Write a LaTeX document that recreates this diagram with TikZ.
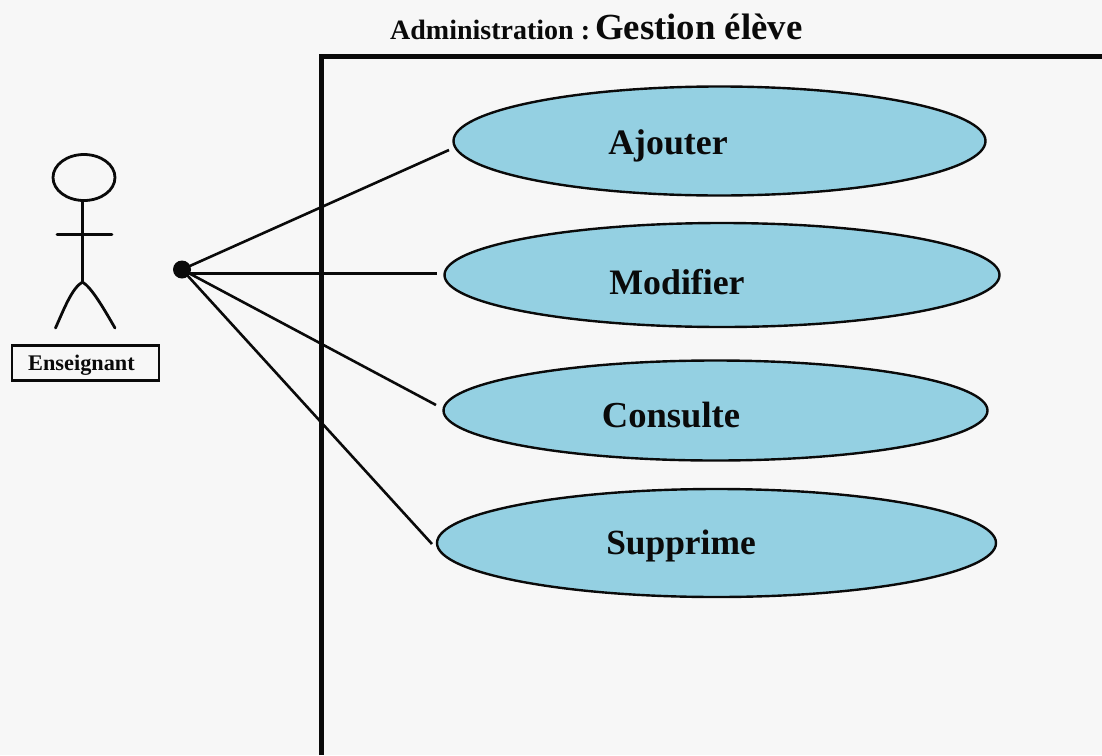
\documentclass[tikz,border=0pt]{standalone}
\usepackage{fontspec}
\setmainfont{Liberation Serif}
\usetikzlibrary{shapes.geometric}
\definecolor{bgc}{HTML}{F7F7F7}
\definecolor{uc}{HTML}{94D0E2}
\definecolor{ink}{HTML}{0A0A0A}
\tikzset{x=1pt,y=-1pt,
 usecase/.style={ellipse,draw=ink,line width=2.4pt,fill=uc,inner sep=0pt,outer sep=0pt},
 uclabel/.style={font=\bfseries\fontsize{35.8}{36}\selectfont,text=ink,inner sep=0pt,anchor=base},
 link/.style={draw=ink,line width=2.6pt},
 stick/.style={draw=ink,line width=2.8pt,line cap=round}}
\begin{document}
\begin{tikzpicture}
\useasboundingbox (0,0) rectangle (1102,755);
\fill[bgc] (0,0) rectangle (1102,755);
\node[inner sep=0pt,anchor=base west,text=ink] (title) at (390,39.5) {\bfseries\fontsize{28}{28}\selectfont Administration :\hspace{5pt}\fontsize{36.8}{37}\selectfont Gestion élève};
\draw[ink,line width=5pt] (321,755) -- (321,56.5) -- (1102,56.5);
\node[usecase,minimum width=532pt,minimum height=109pt] (u1) at (719.5,141) {};
\node[usecase,minimum width=555pt,minimum height=104pt] (u2) at (722,275) {};
\node[usecase,minimum width=544pt,minimum height=100pt] (u3) at (715.5,410.5) {};
\node[usecase,minimum width=559pt,minimum height=108pt] (u4) at (716.5,543) {};
\node[uclabel] (l1) at (668,154) {Ajouter};
\node[uclabel] (l2) at (677,294) {Modifier};
\node[uclabel,font=\bfseries\fontsize{36.6}{37}\selectfont] (l3) at (671,427) {Consulte};
\node[uclabel,font=\bfseries\fontsize{35.4}{36}\selectfont] (l4) at (681,554) {Supprime};
\node[circle,fill=ink,minimum size=18pt,inner sep=0pt] (dot) at (182,269.5) {};
\coordinate (e1) at (449,150);
\coordinate (e2) at (437,273.5);
\coordinate (e3) at (436,405);
\coordinate (e4) at (432,544);
\draw[link] (dot.center) -- (e1);
\draw[link] (dot.center |- e2) -- (e2);
\draw[link] (dot.center) -- (e3);
\draw[link] (dot.center) -- (e4);
\node[ellipse,draw=ink,line width=2.8pt,minimum width=62pt,minimum height=46pt,inner sep=0pt] (head) at (84,177.5) {};
\coordinate (hip) at (82.5,282);
\coordinate (al) at (57,234.5);
\coordinate (ar) at (112,234.5);
\coordinate (ll) at (55.5,328);
\coordinate (lr) at (115,328);
\draw[stick] (head.south -| hip) -- (hip);
\draw[stick] (al) -- (ar);
\draw[stick] (ll) .. controls (64,309) and (72,288) .. (hip) .. controls (92,288) and (104,309) .. (lr);
\node[draw=ink,line width=2.8pt,fill=bgc,minimum width=147pt,minimum height=35pt,inner sep=0pt] (actor) at (85.5,363) {};
\node[inner sep=0pt,anchor=base,font=\bfseries\fontsize{22.3}{23}\selectfont,text=ink] (actorlabel) at (81.5,370) {Enseignant};
\end{tikzpicture}
\end{document}
